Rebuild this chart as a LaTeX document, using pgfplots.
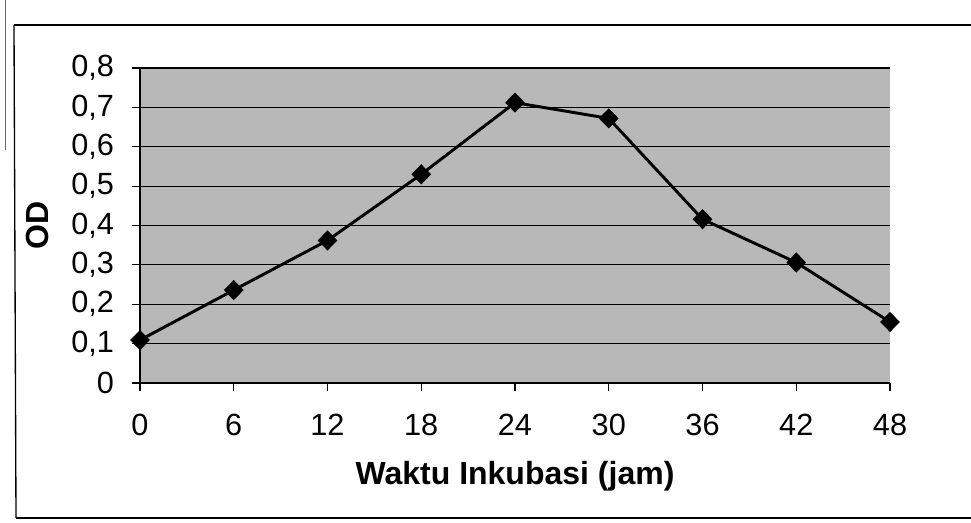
\documentclass[border=0pt]{standalone}
\usepackage{pgfplots}
\pgfplotsset{compat=1.18}
\usepackage{fontspec}
\setmainfont{Liberation Sans}
\begin{document}
\begin{tikzpicture}[x=1pt,y=1pt]
\useasboundingbox (0,0) rectangle (728.25,392.25);
% outer chart frame
\draw[line width=1pt] (10.5,373.5) -- (740,373.5);
\draw[line width=1pt] (10.5,373.5) -- (12,3.75);
\draw[line width=1pt] (12,3.75) -- (740,3.75);
\draw[line width=0.6pt, black!60] (4,392) -- (4,280);
\begin{axis}[
  at={(105pt,105pt)}, anchor=south west,
  width=562.5pt, height=236.25pt, scale only axis,
  xmin=0, xmax=48, ymin=0, ymax=0.8,
  xtick={0,6,...,48}, ytick={0,0.1,...,0.8},
  axis x line*=bottom, axis y line*=left,
  axis line style={line width=1pt, black},
  tick align=outside, major tick length=6pt,
  tick style={line width=0.8pt, black},
  ymajorgrids, major grid style={line width=0.8pt, black},
  axis background/.style={fill=black!28},
  /pgf/number format/assume math mode=true,
  /pgf/number format/use comma,
  /pgf/number format/fixed,
  /pgf/number format/precision=1,
  yticklabel style={font=\fontsize{23}{23}\selectfont, xshift=-10pt},
  xticklabel style={font=\fontsize{23}{23}\selectfont, yshift=-14pt},
  xlabel={\textbf{Waktu Inkubasi (jam)}},
  ylabel={\textbf{OD}},
  xlabel style={font=\fontsize{24}{24}\selectfont, yshift=-12pt},
  ylabel style={font=\fontsize{24}{24}\selectfont, yshift=10pt},
  clip=false,
]
\addplot[black, line width=2.2pt, mark=diamond*, mark size=6pt, mark options={fill=black, xscale=1.3}]
coordinates {(0,0.109) (6,0.236) (12,0.362) (18,0.53) (24,0.712) (30,0.672) (36,0.416) (42,0.306) (48,0.155)};
\end{axis}
\end{tikzpicture}
\end{document}
